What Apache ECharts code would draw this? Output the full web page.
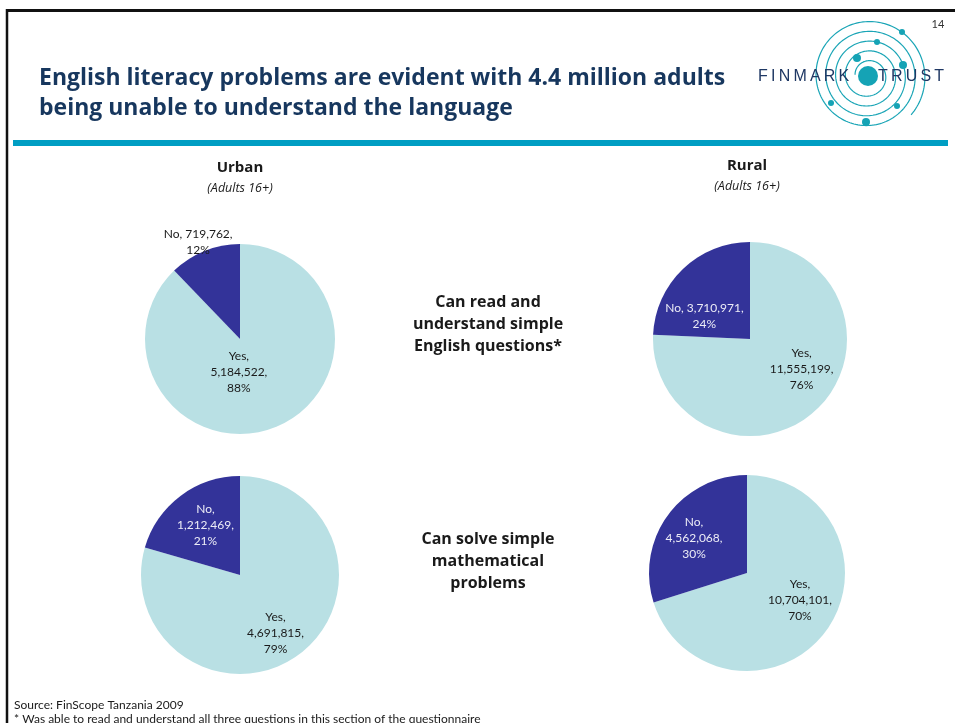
<!DOCTYPE html>
<html>
<head>
<meta charset="utf-8">
<title>English literacy – FinScope Tanzania 2009</title>
<script src="https://cdn.jsdelivr.net/npm/echarts@6/dist/echarts.min.js"></script>
<style>
  html, body { margin: 0; padding: 0; background: #ffffff; }
  #chart { width: 955px; height: 723px; }
</style>
</head>
<body>
<div id="chart"></div>
<script>
// Slice categories and adult counts per group
const sliceNames = ['Yes', 'No'];
const urbanRead = [5184522, 719762];
const ruralRead = [11555199, 3710971];
const urbanMath = [4691815, 1212469];
const ruralMath = [10704101, 4562068];

// Panel text
const columnHeaders = ['Urban', 'Rural'];
const columnSubHeader = '(Adults 16+)';
const rowQuestions = [
  ['Can read and', 'understand simple', 'English questions*'],
  ['Can solve simple', 'mathematical', 'problems']
];
const titleLines = [
  'English literacy problems are evident with 4.4 million adults',
  'being unable to understand the language'
];
const footnotes = [
  'Source: FinScope Tanzania 2009',
  '* Was able to read and understand all three questions in this section of the questionnaire'
];

const YES_COLOR = '#b9e0e4';
const NO_COLOR = '#333399';
const NAVY = '#17375e';
const TEAL = '#009ec3';
const FONT = 'Lato, "Noto Sans", sans-serif';
const HEAD_FONT = '"Open Sans", Lato, sans-serif';
const LOGO_FONT = '16px "Liberation Sans", Arial, sans-serif';

function fmt(n) { return n.toLocaleString('en-US'); }

// One pie per panel; label nudges keep the text where it reads best
function pieSeries(values, center, radius, opts) {
  return {
    type: 'pie',
    center: center,
    radius: radius,
    startAngle: 90,
    clockwise: true,
    percentPrecision: 0,
    animation: false,
    silent: true,
    emphasis: { disabled: true },
    itemStyle: { borderWidth: 0 },
    data: sliceNames.map(function (name, i) {
      return {
        name: name,
        value: values[i],
        itemStyle: { color: i === 0 ? YES_COLOR : NO_COLOR },
        label: { color: i === 0 ? '#1a1a1a' : opts.noLabelColor }
      };
    }),
    label: {
      show: true,
      position: 'inside',
      fontFamily: FONT,
      fontSize: 12,
      lineHeight: 16,
      align: 'center',
      formatter: function (p) {
        if (p.name === 'No' && opts.compactNo) {
          return p.name + ', ' + fmt(p.value) + ',\n' + p.percent + '%';
        }
        return p.name + ',\n' + fmt(p.value) + ',\n' + p.percent + '%';
      }
    },
    labelLine: { show: false },
    labelLayout: function (params) {
      const s = opts.shift[params.dataIndex];
      return { dx: s[0], dy: s[1] };
    }
  };
}

const series = [
  pieSeries(urbanRead, [240, 339], 95, {
    compactNo: true, noLabelColor: '#1a1a1a', shift: [[-20, -14], [-23, -50]]
  }),
  pieSeries(ruralRead, [750, 339], 97, {
    compactNo: true, noLabelColor: '#ececf6', shift: [[16, -7], [-10, 14]]
  }),
  pieSeries(urbanMath, [240, 575], 99, {
    compactNo: false, noLabelColor: '#ececf6', shift: [[4, 16], [-3, -8]]
  }),
  pieSeries(ruralMath, [747, 573], 98, {
    compactNo: false, noLabelColor: '#ececf6', shift: [[11, -4], [-11, -4]]
  })
];

function text(x, y, str, font, fill, align) {
  return {
    type: 'text',
    silent: true,
    style: {
      x: x, y: y, text: str, font: font, fill: fill,
      textAlign: align || 'left', textVerticalAlign: 'middle',
      align: align || 'left', verticalAlign: 'middle'
    }
  };
}

// Logo: spiral with dots around a solid centre
const LOGO_CX = 868, LOGO_CY = 76;
function spiralPoints() {
  const pts = [];
  const turns = 4.6;
  const endAngle = 42 * Math.PI / 180;
  const startAngle = endAngle - turns * 2 * Math.PI;
  const steps = 700;
  for (let i = 0; i <= steps; i++) {
    const t = i / steps;
    const a = startAngle + t * (endAngle - startAngle);
    const r = 13 + t * 45;
    pts.push([LOGO_CX + r * Math.cos(a), LOGO_CY + r * Math.sin(a)]);
  }
  return pts;
}
const logoDots = [[902, 32, 3], [877, 42, 3], [857, 58, 4], [903, 65, 4],
                  [831, 103, 3], [897, 106, 3], [866, 122, 4]];

const THIN = '\u2009';
const graphics = [
  // slide frame
  { type: 'line', silent: true, shape: { x1: 6, y1: 10.5, x2: 955, y2: 10.5 },
    style: { stroke: '#111', lineWidth: 3 } },
  { type: 'line', silent: true, shape: { x1: 7, y1: 9, x2: 7, y2: 723 },
    style: { stroke: '#111', lineWidth: 2.5 } },
  // page number
  text(938, 24, '14', '11px ' + FONT, '#333', 'center'),
  // title
  text(39, 78, titleLines[0], 'bold 23px ' + HEAD_FONT, NAVY),
  text(39, 108, titleLines[1], 'bold 23px ' + HEAD_FONT, NAVY),
  // divider under the title
  { type: 'rect', silent: true, shape: { x: 13, y: 140, width: 935, height: 6 },
    style: { fill: TEAL } },
  // logo
  { type: 'polyline', silent: true, shape: { points: spiralPoints() },
    style: { stroke: '#1aa5b6', lineWidth: 1.2, fill: null } },
  { type: 'circle', silent: true, shape: { cx: LOGO_CX, cy: LOGO_CY, r: 10 },
    style: { fill: '#15a3b5' } }
];
logoDots.forEach(function (d) {
  graphics.push({ type: 'circle', silent: true, shape: { cx: d[0], cy: d[1], r: d[2] },
    style: { fill: '#15a3b5' } });
});
graphics.push(text(758, 77, 'FINMARK'.split('').join(THIN), LOGO_FONT, '#1f3864'));
graphics.push(text(878, 77, 'TRUST'.split('').join(THIN), LOGO_FONT, '#1f3864'));

// column headers
graphics.push(text(240, 168, columnHeaders[0], 'bold 15px ' + HEAD_FONT, '#1a1a1a', 'center'));
graphics.push(text(240, 188, columnSubHeader, 'italic 12.5px ' + HEAD_FONT, '#1a1a1a', 'center'));
graphics.push(text(747, 166, columnHeaders[1], 'bold 15px ' + HEAD_FONT, '#1a1a1a', 'center'));
graphics.push(text(747, 186, columnSubHeader, 'italic 12.5px ' + HEAD_FONT, '#1a1a1a', 'center'));

// row questions
const rowCenters = [302, 539];
rowQuestions.forEach(function (lines, r) {
  lines.forEach(function (line, k) {
    graphics.push(text(488, rowCenters[r] + k * 22, line, 'bold 16px ' + HEAD_FONT, '#1a1a1a', 'center'));
  });
});

// footnotes
graphics.push(text(14, 705, footnotes[0], '12px ' + FONT, '#1a1a1a'));
graphics.push(text(14, 719, footnotes[1], '12px ' + FONT, '#1a1a1a'));

const chart = echarts.init(document.getElementById('chart'));
chart.setOption({
  backgroundColor: '#ffffff',
  animation: false,
  series: series,
  graphic: { elements: graphics }
});
</script>
</body>
</html>
